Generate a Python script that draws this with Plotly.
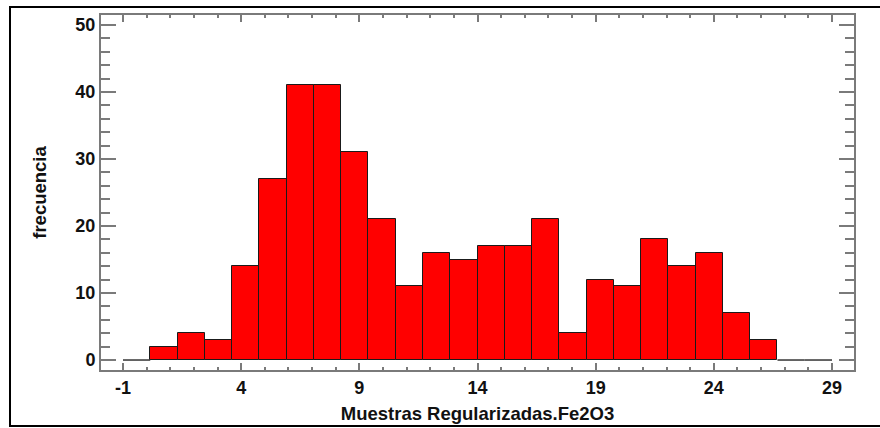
import numpy as np
import plotly.graph_objects as go

# Histogram of regularized Fe2O3 samples: 26 equal bins spanning -1 .. 29
bin_start = -1.0
bin_end = 29.0
n_bins = 26
counts = [0, 2, 4, 3, 14, 27, 41, 41, 31, 21, 11, 16, 15, 17, 17, 21, 4, 12, 11, 18, 14, 16, 7, 3, 0, 0]

x_title = "Muestras Regularizadas.Fe2O3"
y_title = "frecuencia"
x_ticks = [-1, 4, 9, 14, 19, 24, 29]
y_ticks = [0, 10, 20, 30, 40, 50]

edges = np.linspace(bin_start, bin_end, n_bins + 1)
width = edges[1] - edges[0]
centers = (edges[:-1] + edges[1:]) / 2
counts = np.array(counts)
nz = counts > 0

AXIS_GRAY = "#7a7a7a"
FONT = "Liberation Sans, Arial, sans-serif"
TXT = "#111111"

fig = go.Figure()

# empty bins drawn as a baseline segment at zero
zx, zy = [], []
for i in np.where(~nz)[0]:
    zx += [edges[i], edges[i + 1], None]
    zy += [0, 0, None]
fig.add_trace(go.Scatter(x=zx, y=zy, mode="lines",
                         line=dict(color="#333333", width=1.5),
                         hoverinfo="skip", showlegend=False))

fig.add_trace(go.Bar(x=centers[nz], y=counts[nz], width=width,
                     marker=dict(color="#ff0000", line=dict(color="#1a1a1a", width=1)),
                     showlegend=False))

fig.update_layout(
    width=880, height=428,
    margin=dict(l=101, r=26, t=15, b=58),
    paper_bgcolor="white", plot_bgcolor="white",
    bargap=0,
    font=dict(family=FONT, size=18, color=TXT),
    shapes=[dict(type="rect", xref="paper", yref="paper",
                 x0=(10 - 101) / 753, x1=(884 - 101) / 753,
                 y0=(370 - 426) / 355, y1=(370 - 7) / 355,
                 line=dict(color="black", width=2), fillcolor="rgba(0,0,0,0)",
                 layer="below")],
)

fig.update_xaxes(
    range=[-1.93, 29.93], automargin=False,
    tickmode="array", tickvals=x_ticks, ticktext=[str(v) for v in x_ticks],
    ticks="inside", ticklen=7, tickwidth=1.5, tickcolor=AXIS_GRAY,
    minor=dict(ticks="inside", ticklen=3, dtick=1, tick0=-1, tickwidth=1.5, tickcolor=AXIS_GRAY),
    showline=True, linecolor=AXIS_GRAY, linewidth=2, mirror="allticks",
    showgrid=False, zeroline=False,
    tickfont=dict(family=FONT, size=18, color=TXT, weight="bold"),
    title=dict(text="<b>" + x_title + "</b>", font=dict(family=FONT, size=18.5, color=TXT), standoff=10),
)

fig.update_yaxes(
    range=[-1.49, 51.49], automargin=False,
    tickmode="array", tickvals=y_ticks, ticktext=[str(v) for v in y_ticks],
    ticks="inside", ticklen=15, tickwidth=1.5, tickcolor=AXIS_GRAY,
    minor=dict(ticks="inside", ticklen=9, dtick=2, tick0=0, tickwidth=1.5, tickcolor=AXIS_GRAY),
    showline=True, linecolor=AXIS_GRAY, linewidth=2, mirror="allticks",
    showgrid=False, zeroline=False,
    tickfont=dict(family=FONT, size=18, color=TXT, weight="bold"),
    title=dict(text="<b>" + y_title + "</b>", font=dict(family=FONT, size=18.5, color=TXT), standoff=24),
)

fig.write_html("out.html")
